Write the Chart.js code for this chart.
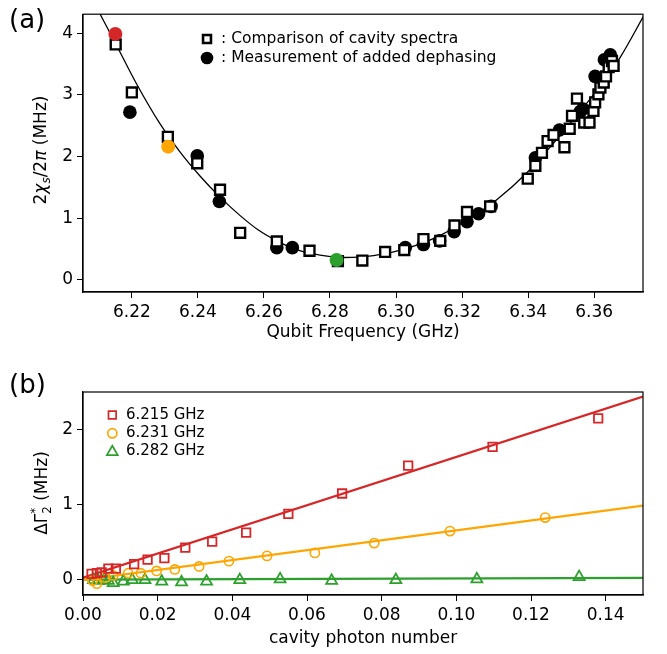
<!DOCTYPE html>
<html>
<head>
<meta charset="utf-8">
<script src="https://cdn.jsdelivr.net/npm/chart.js@4/dist/chart.umd.min.js"></script>
<style>
  html, body { margin: 0; padding: 0; background: #fff; }
  #wrap { position: relative; width: 667px; height: 654px; overflow: hidden; }
  canvas { position: absolute; left: 0; }
  #chiChart { top: 0; }
  #gammaChart { top: 345px; }
</style>
</head>
<body>
<div id="wrap">
  <canvas id="chiChart" width="667" height="345"></canvas>
  <canvas id="gammaChart" width="667" height="309"></canvas>
</div>
<script>
// ---------- (a) dispersive shift vs qubit frequency ----------
const fitFreq = [6.2104, 6.2153, 6.2214, 6.2284, 6.2345, 6.2407, 6.2467, 6.2528, 6.2582, 6.2639, 6.2688, 6.2740,
                 6.2841, 6.2932, 6.3033, 6.3134, 6.3245, 6.3306, 6.3397, 6.3487, 6.3568, 6.3629, 6.3679, 6.3749];
const fitChi  = [4.31, 3.81, 3.18, 2.54, 2.08, 1.68, 1.34, 1.04, 0.81, 0.63, 0.51, 0.43,
                 0.36, 0.39, 0.51, 0.72, 1.07, 1.30, 1.74, 2.28, 2.80, 3.22, 3.61, 4.27];

const spectraFreq = [6.2151, 6.2200, 6.2309, 6.2398, 6.2467, 6.2528, 6.2639, 6.2738, 6.2824, 6.2898, 6.2967, 6.3025,
                     6.3083, 6.3134, 6.3177, 6.3215, 6.3285, 6.3399, 6.3422, 6.3442, 6.3459, 6.3477, 6.3510, 6.3526,
                     6.3533, 6.3548, 6.3570, 6.3586, 6.3598, 6.3603, 6.3613, 6.3619, 6.3629, 6.3636, 6.3644, 6.3654, 6.3659];
const spectraChi  = [3.82, 3.04, 2.32, 1.89, 1.46, 0.76, 0.62, 0.47, 0.30, 0.31, 0.45, 0.48,
                     0.66, 0.63, 0.88, 1.10, 1.19, 1.64, 1.85, 2.06, 2.25, 2.35, 2.15, 2.45,
                     2.66, 2.94, 2.55, 2.55, 2.74, 2.88, 3.01, 3.12, 3.20, 3.30, 3.45, 3.55, 3.47];

const dephFreq = [6.2194, 6.2398, 6.2465, 6.2639, 6.2686, 6.3028, 6.3083, 6.3132, 6.3176, 6.3215, 6.3250, 6.3288,
                  6.3422, 6.3495, 6.3558, 6.3566, 6.3603, 6.3631, 6.3649];
const dephChi  = [2.72, 2.01, 1.27, 0.52, 0.52, 0.52, 0.57, 0.63, 0.78, 0.94, 1.07, 1.19,
                  1.98, 2.43, 2.73, 2.77, 3.30, 3.57, 3.65];

const markedFreq   = [6.215, 6.231, 6.282];
const markedChi    = [3.99, 2.16, 0.32];
const markedColors = ['#d62728', '#ffa500', '#2ca02c'];

const freqTicks = [6.22, 6.24, 6.26, 6.28, 6.30, 6.32, 6.34, 6.36];
const chiTicks  = [0, 1, 2, 3, 4];

// ---------- (b) added dephasing vs cavity photon number ----------
const nRed    = [0.0023, 0.0037, 0.0050, 0.0068, 0.0088, 0.0137, 0.0173, 0.0218, 0.0274, 0.0346, 0.0437, 0.0550,
                 0.0694, 0.0871, 0.1097, 0.1380];
const gRed    = [0.08, 0.09, 0.10, 0.15, 0.15, 0.21, 0.27, 0.29, 0.43, 0.51, 0.63, 0.88,
                 1.15, 1.52, 1.77, 2.15];
const nOrange = [0.0026, 0.0037, 0.0059, 0.0081, 0.0121, 0.0155, 0.0197, 0.0246, 0.0311, 0.0391, 0.0493, 0.0621,
                 0.0780, 0.0983, 0.1238];
const gOrange = [-0.01, -0.05, 0.03, 0.06, 0.09, 0.09, 0.12, 0.14, 0.18, 0.25, 0.32, 0.36,
                 0.49, 0.65, 0.83];
const nGreen  = [0.0028, 0.0041, 0.0054, 0.0068, 0.0081, 0.0108, 0.0132, 0.0166, 0.0211, 0.0264, 0.0331, 0.0420,
                 0.0528, 0.0666, 0.0838, 0.1055, 0.1329];
const gGreen  = [0.00, -0.01, 0.00, -0.01, -0.04, -0.02, 0.00, 0.00, -0.02, -0.03, -0.02, 0.00,
                 0.01, -0.01, 0.00, 0.01, 0.04];

// linear fits, sampled at the ends of the photon-number range
const fitN       = [0, 0.15];
const fitRed     = [0.03, 2.44];
const fitOrange  = [0.00, 0.99];
const fitGreen   = [0.005, 0.027];

const photonTicks = [0, 0.02, 0.04, 0.06, 0.08, 0.10, 0.12, 0.14];
const gammaTicks  = [0, 1, 2];
const seriesLabels = ['6.215 GHz', '6.231 GHz', '6.282 GHz'];

// ---------- helpers ----------
const pts = (xs, ys) => xs.map((x, i) => ({ x: x, y: ys[i] }));
const FONT = 'DejaVu Sans, sans-serif';
Chart.defaults.font.family = FONT;
Chart.defaults.color = '#000';

function tickAxis(ticks, min, max, fmt, fitSize, horizontal) {
  return {
    type: 'linear', min: min, max: max,
    afterBuildTicks: s => { s.ticks = ticks.map(v => ({ value: v })); },
    afterFit: s => { if (horizontal) s.height = fitSize; else s.width = fitSize; },
    ticks: { font: { size: 17 }, padding: 4, maxRotation: 0, autoSkip: false, callback: v => fmt(v) },
    grid: { drawOnChartArea: false, drawTicks: true, tickLength: 6, color: '#000', lineWidth: 1 },
    border: { display: true, color: '#000', width: 1.2 },
    title: { display: false }
  };
}

// text run with sub/superscripts, centred on (cx, cy), optionally rotated.
// A part flagged "stack" is drawn at the x of the previous part and takes no width.
function richText(ctx, parts, cx, cy, rot, size) {
  ctx.save();
  ctx.translate(cx, cy);
  ctx.rotate(rot);
  ctx.textBaseline = 'alphabetic';
  ctx.textAlign = 'left';
  let total = 0;
  parts.forEach(p => {
    const s = size * (p.scale || 1);
    ctx.font = (p.italic ? 'italic ' : '') + s + 'px ' + FONT;
    p.w = ctx.measureText(p.t).width;
    if (!p.stack) total += p.w;
  });
  let x = -total / 2;
  let lastX = x;
  const base = size * 0.36;
  parts.forEach(p => {
    const s = size * (p.scale || 1);
    ctx.font = (p.italic ? 'italic ' : '') + s + 'px ' + FONT;
    ctx.fillStyle = '#000';
    const px = p.stack ? lastX : x;
    ctx.fillText(p.t, px, base + (p.dy || 0) * size);
    if (!p.stack) { lastX = x; x += p.w; }
  });
  ctx.restore();
}

function frameAndText(drawExtra) {
  return {
    id: 'frameAndText',
    afterDatasetsDraw(chart) {
      const { ctx, chartArea: a } = chart;
      ctx.save();
      ctx.strokeStyle = '#000';
      ctx.lineWidth = 1.2;
      ctx.strokeRect(a.left, a.top, a.right - a.left, a.bottom - a.top);
      ctx.restore();
      drawExtra(chart);
    }
  };
}

function marker(ctx, style, radius, x, y, fill, stroke, bw) {
  ctx.save();
  ctx.fillStyle = fill;
  ctx.strokeStyle = stroke;
  ctx.lineWidth = bw;
  Chart.helpers.drawPoint(ctx, { pointStyle: style, radius: radius, borderWidth: bw, rotation: 0 }, x, y);
  ctx.restore();
}

// ---------- chart (a) ----------
new Chart(document.getElementById('chiChart'), {
  type: 'scatter',
  data: {
    datasets: [
      { label: 'marked', data: pts(markedFreq, markedChi), pointStyle: 'circle', pointRadius: 7,
        backgroundColor: markedColors, borderColor: markedColors, borderWidth: 0, order: 0 },
      { label: 'spectra', data: pts(spectraFreq, spectraChi), pointStyle: 'rect', pointRadius: 7,
        backgroundColor: '#fff', borderColor: '#000', borderWidth: 2.4, order: 1 },
      { label: 'dephasing', data: pts(dephFreq, dephChi), pointStyle: 'circle', pointRadius: 6.8,
        backgroundColor: '#000', borderColor: '#000', borderWidth: 0, order: 2 },
      { label: 'fit', data: pts(fitFreq, fitChi), showLine: true, pointRadius: 0, borderColor: '#000',
        borderWidth: 1.3, cubicInterpolationMode: 'monotone', order: 3 }
    ]
  },
  options: {
    responsive: false, animation: false, devicePixelRatio: 1,
    layout: { padding: { top: 8, right: 24, left: 0, bottom: 0 } },
    plugins: { legend: { display: false }, tooltip: { enabled: false } },
    scales: {
      x: tickAxis(freqTicks, 6.2052, 6.3748, v => v.toFixed(2), 53, true),
      y: tickAxis(chiTicks, -0.2, 4.31, v => String(v), 83, false)
    }
  },
  plugins: [frameAndText(chart => {
    const ctx = chart.ctx;
    ctx.save();
    ctx.fillStyle = '#000';
    ctx.font = '26px ' + FONT;
    ctx.textBaseline = 'alphabetic';
    ctx.fillText('(a)', 9, 28);
    // legend
    marker(ctx, 'rect', 5.6, 207, 39, '#fff', '#000', 2.6);
    marker(ctx, 'circle', 6.3, 207, 58, '#000', '#000', 0);
    ctx.fillStyle = '#000';
    ctx.font = '15.5px ' + FONT;
    ctx.textBaseline = 'middle';
    ctx.fillText(': Comparison of cavity spectra', 221, 39);
    ctx.fillText(': Measurement of added dephasing', 221, 58);
    ctx.restore();
    // axis titles
    richText(ctx, [{ t: 'Qubit Frequency (GHz)' }], 363, 331, 0, 17);
    richText(ctx, [
      { t: '2' }, { t: 'χ', italic: true }, { t: 's', italic: true, scale: 0.7, dy: 0.2 },
      { t: '/2' }, { t: 'π', italic: true }, { t: ' (MHz)' }
    ], 40, 150, -Math.PI / 2, 17);
  })]
});

// ---------- chart (b) ----------
const bColors = ['#d62728', '#ffa500', '#2ca02c'];
new Chart(document.getElementById('gammaChart'), {
  type: 'scatter',
  data: {
    datasets: [
      { label: seriesLabels[0], data: pts(nRed, gRed), pointStyle: 'rect', pointRadius: 6,
        backgroundColor: 'rgba(0,0,0,0)', borderColor: bColors[0], borderWidth: 1.8 },
      { label: seriesLabels[1], data: pts(nOrange, gOrange), pointStyle: 'circle', pointRadius: 4.6,
        backgroundColor: 'rgba(0,0,0,0)', borderColor: bColors[1], borderWidth: 1.6 },
      { label: seriesLabels[2], data: pts(nGreen, gGreen), pointStyle: 'triangle', pointRadius: 6.3,
        backgroundColor: 'rgba(0,0,0,0)', borderColor: bColors[2], borderWidth: 1.8 },
      { label: 'fit red', data: pts(fitN, fitRed), showLine: true, pointRadius: 0, borderColor: bColors[0], borderWidth: 2.2 },
      { label: 'fit orange', data: pts(fitN, fitOrange), showLine: true, pointRadius: 0, borderColor: bColors[1], borderWidth: 2.2 },
      { label: 'fit green', data: pts(fitN, fitGreen), showLine: true, pointRadius: 0, borderColor: bColors[2], borderWidth: 2.2 }
    ]
  },
  options: {
    responsive: false, animation: false, devicePixelRatio: 1,
    layout: { padding: { top: 47, right: 24, left: 0, bottom: 0 } },
    plugins: { legend: { display: false }, tooltip: { enabled: false } },
    scales: {
      x: tickAxis(photonTicks, 0, 0.15, v => v.toFixed(2), 59, true),
      y: tickAxis(gammaTicks, -0.2, 2.5, v => String(v), 83, false)
    }
  },
  plugins: [frameAndText(chart => {
    const ctx = chart.ctx;
    ctx.save();
    ctx.fillStyle = '#000';
    ctx.font = '26px ' + FONT;
    ctx.textBaseline = 'alphabetic';
    ctx.fillText('(b)', 9, 48);
    // legend
    const styles = [['rect', 5.4], ['circle', 4.6], ['triangle', 6.3]];
    const rows = [70, 88.3, 106];
    styles.forEach((s, i) => marker(ctx, s[0], s[1], 112.3, rows[i] + (s[0] === 'triangle' ? 1 : 0), 'rgba(0,0,0,0)', bColors[i], 1.7));
    ctx.fillStyle = '#000';
    ctx.font = '15px ' + FONT;
    ctx.textBaseline = 'middle';
    seriesLabels.forEach((t, i) => ctx.fillText(t, 126, rows[i]));
    ctx.restore();
    richText(ctx, [{ t: 'cavity photon number' }], 363, 292, 0, 17);
    richText(ctx, [
      { t: 'ΔΓ' }, { t: '2', scale: 0.7, dy: 0.22 }, { t: '*', scale: 0.7, dy: -0.45, stack: true }, { t: ' (MHz)' }
    ], 41, 148, -Math.PI / 2, 17);
  })]
});
</script>
</body>
</html>
